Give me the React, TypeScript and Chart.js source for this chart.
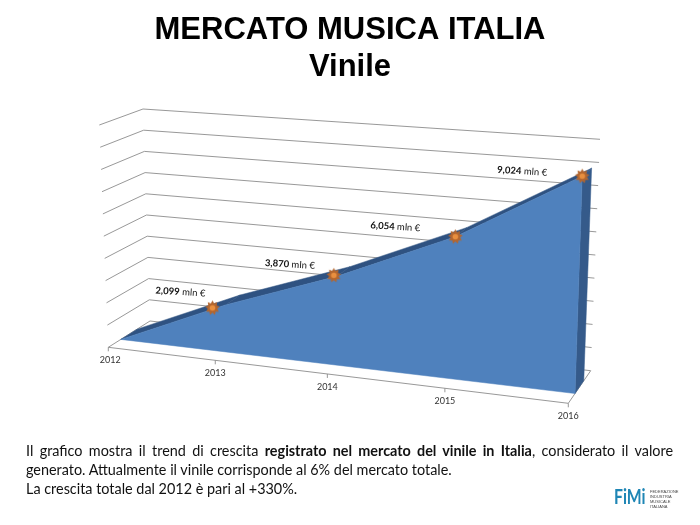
import React, { useEffect, useRef } from "react";
import { Chart, registerables } from "chart.js";

Chart.register(...registerables);

const categories = ["2012", "2013", "2014", "2015", "2016"];
const vinileValues = [0, 2.099, 3.87, 6.054, 9.024];
const valueLabels = ["", "2,099", "3,870", "6,054", "9,024"];
const yMax = 10;
const yStep = 1;

// --- Layout of the 3D box (picture pixels): [x, y] of the corners, named u(category) v(value) d(depth)
const C000 = [108.3, 347.3];
const C100 = [568.3, 403.3];
const C010 = [99.3, 125];
const C110 = [575.7, 158.4];
const C001 = [150, 321];
const C101 = [590.7, 370.7];
const C011 = [143, 109];
const C111 = [600, 139.3];
const PERSPECTIVE = 1.1;
const AREA_FRONT = 0.3;
const AREA_BACK = 0.69;

const markerNudge = [
  [0, 0],
  [-13, 3],
  [-3, -1],
  [0, 0],
  [0, 0],
];
const labelOffset = [
  [0, 0],
  [-32, -16],
  [-44, -11],
  [-60, -10],
  [-60, -5],
];

const BLUE = "#4F81BD";
const TOP_BLUE = "#2F5281";
const SIDE_BLUE = "#355A8A";
const GRID = "#8C8C8C";

const lerp = (a: number, b: number, t: number) => a + (b - a) * t;

function project(u: number, v: number, d: number): [number, number] {
  const t = u / (u + PERSPECTIVE * (1 - u));
  const out: [number, number] = [0, 0];
  for (let i = 0; i < 2; i++) {
    const front = lerp(lerp(C000[i], C100[i], t), lerp(C010[i], C110[i], t), v);
    const back = lerp(lerp(C001[i], C101[i], t), lerp(C011[i], C111[i], t), v);
    out[i] = lerp(front, back, d);
  }
  return out;
}

function makeSun(): HTMLCanvasElement {
  const c = document.createElement("canvas");
  c.width = 17;
  c.height = 17;
  const g = c.getContext("2d")!;
  const spikes = 9;
  g.translate(8.5, 8.5);
  g.beginPath();
  for (let i = 0; i < spikes * 2; i++) {
    const r = i % 2 === 0 ? 7.4 : 4.8;
    const a = (i * Math.PI) / spikes - Math.PI / 2;
    g.lineTo(r * Math.cos(a), r * Math.sin(a));
  }
  g.closePath();
  g.fillStyle = "#B3662F";
  g.fill();
  g.beginPath();
  g.arc(0, 0, 2.8, 0, Math.PI * 2);
  g.fillStyle = "#E98F3F";
  g.fill();
  return c;
}

function norm(chart: any, i: number, value: number): [number, number] {
  const x = chart.scales.x;
  const y = chart.scales.y;
  const u = (x.getPixelForValue(i) - x.left) / (x.right - x.left);
  const v = (y.bottom - y.getPixelForValue(value)) / (y.bottom - y.top);
  return [u, v];
}

function poly(ctx: CanvasRenderingContext2D, pts: [number, number][], fill: string) {
  ctx.beginPath();
  pts.forEach((p, i) => (i ? ctx.lineTo(p[0], p[1]) : ctx.moveTo(p[0], p[1])));
  ctx.closePath();
  ctx.fillStyle = fill;
  ctx.fill();
  ctx.strokeStyle = fill;
  ctx.lineWidth = 0.5;
  ctx.stroke();
}

function seg(ctx: CanvasRenderingContext2D, a: [number, number], b: [number, number]) {
  ctx.beginPath();
  ctx.moveTo(a[0], a[1]);
  ctx.lineTo(b[0], b[1]);
  ctx.stroke();
}

const box3d = {
  id: "box3d",
  afterDatasetsUpdate(chart: any) {
    const meta = chart.getDatasetMeta(0);
    meta.data.forEach((el: any, i: number) => {
      const [u, v] = norm(chart, i, vinileValues[i]);
      const p = project(u, v, AREA_FRONT);
      el.x = p[0] + markerNudge[i][0];
      el.y = p[1] + markerNudge[i][1];
    });
  },
  beforeDatasetsDraw(chart: any) {
    const ctx: CanvasRenderingContext2D = chart.ctx;
    const yScale = chart.scales.y;
    ctx.save();
    ctx.strokeStyle = GRID;
    ctx.lineWidth = 0.9;
    yScale.ticks.forEach((tick: any) => {
      const v = (yScale.bottom - yScale.getPixelForValue(tick.value)) / (yScale.bottom - yScale.top);
      seg(ctx, project(0, v, 0), project(0, v, 1));
      seg(ctx, project(0, v, 1), project(1, v, 1));
    });
    // floor
    seg(ctx, project(0, 0, 0), project(1, 0, 0));
    seg(ctx, project(1, 0, 0), project(1, 0, 1));

    // category ticks and labels
    ctx.fillStyle = "#333";
    ctx.font = "9px Lato";
    ctx.textAlign = "center";
    ctx.textBaseline = "middle";
    categories.forEach((label, i) => {
      const [u] = norm(chart, i, 0);
      const p = project(u, 0, 0);
      seg(ctx, p, [p[0], p[1] + 4]);
      ctx.fillText(label, p[0] + (i === 0 ? 2 : 0), p[1] + 13);
    });

    // area body
    const pts = vinileValues.map((val, i) => norm(chart, i, val));
    for (let i = 0; i < pts.length - 1; i++) {
      poly(
        ctx,
        [
          project(pts[i][0], pts[i][1], AREA_FRONT),
          project(pts[i + 1][0], pts[i + 1][1], AREA_FRONT),
          project(pts[i + 1][0], pts[i + 1][1], AREA_BACK),
          project(pts[i][0], pts[i][1], AREA_BACK),
        ],
        TOP_BLUE
      );
    }
    const last = pts[pts.length - 1];
    poly(
      ctx,
      [
        project(1, 0, AREA_FRONT),
        project(1, last[1], AREA_FRONT),
        project(1, last[1], AREA_BACK),
        project(1, 0, AREA_BACK),
      ],
      SIDE_BLUE
    );
    const front: [number, number][] = [project(0, 0, AREA_FRONT)];
    pts.forEach((p) => front.push(project(p[0], p[1], AREA_FRONT)));
    front.push(project(1, 0, AREA_FRONT));
    poly(ctx, front, BLUE);
    ctx.restore();
  },
  afterDatasetsDraw(chart: any) {
    const ctx: CanvasRenderingContext2D = chart.ctx;
    const meta = chart.getDatasetMeta(0);
    ctx.save();
    ctx.fillStyle = "#111";
    ctx.textBaseline = "middle";
    valueLabels.forEach((label, i) => {
      if (!label) return;
      const el = meta.data[i];
      ctx.save();
      ctx.translate(el.x + labelOffset[i][0], el.y + labelOffset[i][1]);
      ctx.rotate((3.5 * Math.PI) / 180);
      ctx.font = "bold 9.5px Lato";
      const a = ctx.measureText(label).width;
      ctx.font = "9.5px Lato";
      const rest = " mln €";
      const b = ctx.measureText(rest).width;
      ctx.textAlign = "left";
      ctx.font = "bold 9.5px Lato";
      ctx.fillText(label, -(a + b) / 2, 0);
      ctx.font = "9.5px Lato";
      ctx.fillText(rest, -(a + b) / 2 + a, 0);
      ctx.restore();
    });
    ctx.restore();
  },
};

export default function App() {
  const ref = useRef<HTMLCanvasElement>(null);
  useEffect(() => {
    document.body.style.margin = "0";
    const sun = makeSun();
    const chart = new Chart(ref.current!, {
      type: "line",
      data: {
        labels: categories,
        datasets: [
          {
            label: "Vinile",
            data: vinileValues,
            showLine: false,
            pointStyle: sun as any,
            pointRadius: vinileValues.map((_, i) => (i === 0 ? 0 : 8)),
            pointHoverRadius: vinileValues.map((_, i) => (i === 0 ? 0 : 8)),
            clip: false as any,
          },
        ],
      },
      options: {
        responsive: false,
        animation: false,
        events: [],
        layout: { padding: 0 },
        plugins: {
          legend: { display: false },
          tooltip: { enabled: false },
          title: {
            display: true,
            text: ["MERCATO MUSICA ITALIA", "Vinile"],
            color: "#000",
            font: { family: "'Liberation Sans'", size: 31, weight: "bold", lineHeight: 1.19 },
            padding: { top: 12, bottom: 8 },
          },
        },
        scales: {
          x: { type: "category", display: false, offset: false },
          y: { type: "linear", display: false, min: 0, max: yMax, ticks: { stepSize: yStep } },
        },
      },
      plugins: [box3d],
    });
    return () => chart.destroy();
  }, []);

  return (
    <div style={{ position: "relative", width: 700, height: 525, background: "#fff", overflow: "hidden" }}>
      <canvas ref={ref} width={700} height={525} style={{ position: "absolute", left: 0, top: 0 }} />
      <div
        style={{
          position: "absolute",
          left: 26,
          top: 441,
          width: 647,
          fontFamily: "Lato",
          fontSize: 14.4,
          lineHeight: "19px",
          color: "#111",
          textAlign: "justify",
        }}
      >
        Il grafico mostra il trend di crescita <b>registrato nel mercato del vinile in Italia</b>, considerato il valore
        generato. Attualmente il vinile corrisponde al 6% del mercato totale.
        <br />
        La crescita totale dal 2012 è pari al +330%.
      </div>
      <div
        style={{
          position: "absolute",
          left: 614,
          top: 484,
          fontFamily: "Lato",
          fontWeight: 700,
          fontSize: 21,
          lineHeight: "24px",
          color: "#1F86B5",
          transform: "scaleX(0.75)",
          transformOrigin: "left top",
        }}
      >
        FiMi
      </div>
      <div
        style={{
          position: "absolute",
          left: 650,
          top: 489,
          fontFamily: "'Liberation Sans'",
          fontSize: 4,
          lineHeight: "5px",
          color: "#444",
        }}
      >
        FEDERAZIONE
        <br />
        INDUSTRIA
        <br />
        MUSICALE
        <br />
        ITALIANA
      </div>
    </div>
  );
}
